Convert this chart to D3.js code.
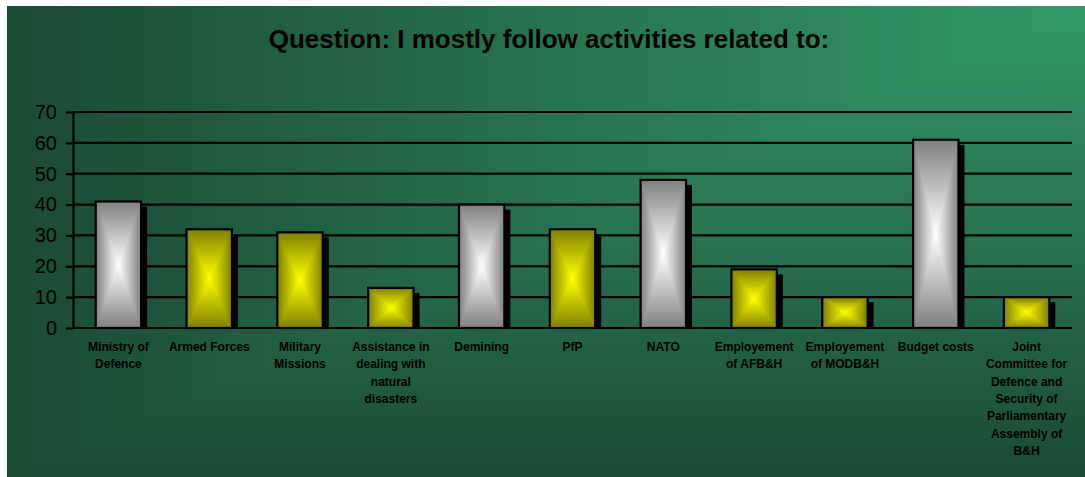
<!DOCTYPE html>
<html>
<head>
<meta charset="utf-8">
<script src="https://cdn.jsdelivr.net/npm/d3@7/dist/d3.min.js"></script>
<style>
  html, body { margin: 0; padding: 0; background: #ffffff; }
  svg { display: block; font-family: "Liberation Sans", Arial, sans-serif; }
</style>
</head>
<body>
<svg id="chart" width="1085" height="477"></svg>
<script>
// Survey answers: share of respondents following each area
const categories = [
  "Ministry of Defence",
  "Armed Forces",
  "Military Missions",
  "Assistance in dealing with natural disasters",
  "Demining",
  "PfP",
  "NATO",
  "Employement of AFB&H",
  "Employement of MODB&H",
  "Budget costs",
  "Joint Committee for Defence and Security of Parliamentary Assembly of B&H"
];
const labelLines = [
  ["Ministry of", "Defence"],
  ["Armed Forces"],
  ["Military", "Missions"],
  ["Assistance in", "dealing with", "natural", "disasters"],
  ["Demining"],
  ["PfP"],
  ["NATO"],
  ["Employement", "of AFB&H"],
  ["Employement", "of MODB&H"],
  ["Budget costs"],
  ["Joint", "Committee for", "Defence and", "Security of", "Parliamentary", "Assembly of", "B&H"]
];
const values = [41, 32, 31, 13, 40, 32, 48, 19, 10, 61, 10];
// alternating bar finish: silver / yellow
const finishes = ["grey", "yellow", "yellow", "yellow", "grey", "yellow", "grey", "yellow", "yellow", "grey", "yellow"];
const yTicks = [0, 10, 20, 30, 40, 50, 60, 70];
const title = "Question: I mostly follow activities related to:";

const W = 1085, H = 477;
const svg = d3.select("#chart");
const defs = svg.append("defs");

// ---- background: corner gradient, lightest at the top-right ----
const bg = { x: 7, y: 6, w: W - 7, h: H - 6 };
const dark = "#1b4a34", light = "#33996a";
const gH = defs.append("linearGradient").attr("id", "bgH")
  .attr("gradientUnits", "userSpaceOnUse")
  .attr("x1", bg.x).attr("y1", 0).attr("x2", bg.x + bg.w).attr("y2", 0);
gH.append("stop").attr("offset", 0).attr("stop-color", dark);
gH.append("stop").attr("offset", 1).attr("stop-color", light);
const gV = defs.append("linearGradient").attr("id", "bgV")
  .attr("gradientUnits", "userSpaceOnUse")
  .attr("x1", 0).attr("y1", bg.y).attr("x2", 0).attr("y2", bg.y + bg.h);
gV.append("stop").attr("offset", 0).attr("stop-color", light);
gV.append("stop").attr("offset", 1).attr("stop-color", dark);

// full panel with the horizontal ramp, lower-right half overlaid with the vertical ramp
svg.append("rect")
  .attr("x", bg.x).attr("y", bg.y).attr("width", bg.w).attr("height", bg.h)
  .attr("fill", "url(#bgH)");
svg.append("polygon")
  .attr("points", [[bg.x + bg.w, bg.y], [bg.x + bg.w, bg.y + bg.h], [bg.x, bg.y + bg.h]].join(" "))
  .attr("fill", "url(#bgV)");

// ---- bar finishes: rectangular "from centre" gradient ----
const finishColors = {
  grey: { edge: "#7f7f7f", centre: "#ffffff" },
  yellow: { edge: "#7f7f00", centre: "#ffff00" }
};
Object.entries(finishColors).forEach(([name, c]) => {
  // side-to-side ramp for the whole face
  const h = defs.append("linearGradient").attr("id", `${name}H`)
    .attr("x1", 0).attr("y1", 0).attr("x2", 1).attr("y2", 0);
  h.append("stop").attr("offset", 0).attr("stop-color", c.edge);
  h.append("stop").attr("offset", 0.5).attr("stop-color", c.centre);
  h.append("stop").attr("offset", 1).attr("stop-color", c.edge);
  // top and bottom wedges
  const dirs = { T: [0, 0, 0, 1], B: [0, 1, 0, 0] };
  Object.entries(dirs).forEach(([d, v]) => {
    const g = defs.append("linearGradient").attr("id", `${name}${d}`)
      .attr("x1", v[0]).attr("y1", v[1]).attr("x2", v[2]).attr("y2", v[3]);
    g.append("stop").attr("offset", 0).attr("stop-color", c.edge);
    g.append("stop").attr("offset", 1).attr("stop-color", c.centre);
  });
});

// ---- scales ----
const plot = { left: 73, right: 1072, top: 112, bottom: 328 };
const x = d3.scaleBand().domain(categories)
  .range([plot.left, plot.right]).paddingInner(0.5).paddingOuter(0.25);
const y = d3.scaleLinear().domain([0, 70]).range([plot.bottom, plot.top]);

// ---- title ----
svg.append("text")
  .attr("x", 549).attr("y", 48)
  .attr("text-anchor", "middle")
  .attr("font-size", 26).attr("font-weight", "bold")
  .attr("fill", "#000")
  .text(title);

// ---- gridlines ----
svg.append("g").selectAll("line").data(yTicks).join("line")
  .attr("x1", plot.left).attr("x2", plot.right)
  .attr("y1", d => y(d)).attr("y2", d => y(d))
  .attr("stroke", "#000").attr("stroke-width", 2.2);

// ---- y axis ----
const yAxis = svg.append("g")
  .attr("transform", `translate(${plot.left},0)`)
  .call(d3.axisLeft(y).tickValues(yTicks).tickSize(7).tickPadding(9).tickSizeOuter(0));
yAxis.select(".domain").attr("stroke", "#000").attr("stroke-width", 2.2);
yAxis.selectAll(".tick line").attr("stroke", "#000").attr("stroke-width", 2.2);
yAxis.selectAll(".tick text")
  .attr("font-family", "Liberation Sans, Arial, sans-serif")
  .attr("font-size", 20).attr("fill", "#000");

// ---- bars ----
const bars = svg.append("g").selectAll("g").data(categories).join("g");

// drop shadow
bars.append("rect")
  .attr("x", d => x(d) + 6)
  .attr("y", (d, i) => y(values[i]) + 5)
  .attr("width", x.bandwidth())
  .attr("height", (d, i) => Math.max(0, y(0) - y(values[i]) - 5))
  .attr("fill", "#000");

// shaded faces
bars.each(function (d, i) {
  const g = d3.select(this);
  const x0 = x(d), x1 = x(d) + x.bandwidth();
  const y0 = y(values[i]), y1 = y(0);
  const cx = (x0 + x1) / 2, cy = (y0 + y1) / 2;
  const f = finishes[i];
  g.append("rect")
    .attr("x", x0).attr("y", y0)
    .attr("width", x1 - x0).attr("height", y1 - y0)
    .attr("fill", `url(#${f}H)`);
  g.append("polygon")
    .attr("points", [[x0, y0], [x1, y0], [cx, cy]].map(p => p.join(",")).join(" "))
    .attr("fill", `url(#${f}T)`);
  g.append("polygon")
    .attr("points", [[x0, y1], [x1, y1], [cx, cy]].map(p => p.join(",")).join(" "))
    .attr("fill", `url(#${f}B)`);
  g.append("rect")
    .attr("x", x0).attr("y", y0)
    .attr("width", x1 - x0).attr("height", y1 - y0)
    .attr("fill", "none").attr("stroke", "#000").attr("stroke-width", 2.2);
});

// ---- category labels ----
const lab = svg.append("g").selectAll("text").data(categories).join("text")
  .attr("text-anchor", "middle")
  .attr("font-size", 12).attr("font-weight", "bold").attr("fill", "#000");
lab.each(function (d, i) {
  const t = d3.select(this);
  labelLines[i].forEach((line, j) => {
    t.append("tspan")
      .attr("x", x(d) + x.bandwidth() / 2)
      .attr("y", 351 + j * 17.3)
      .text(line);
  });
});
</script>
</body>
</html>
